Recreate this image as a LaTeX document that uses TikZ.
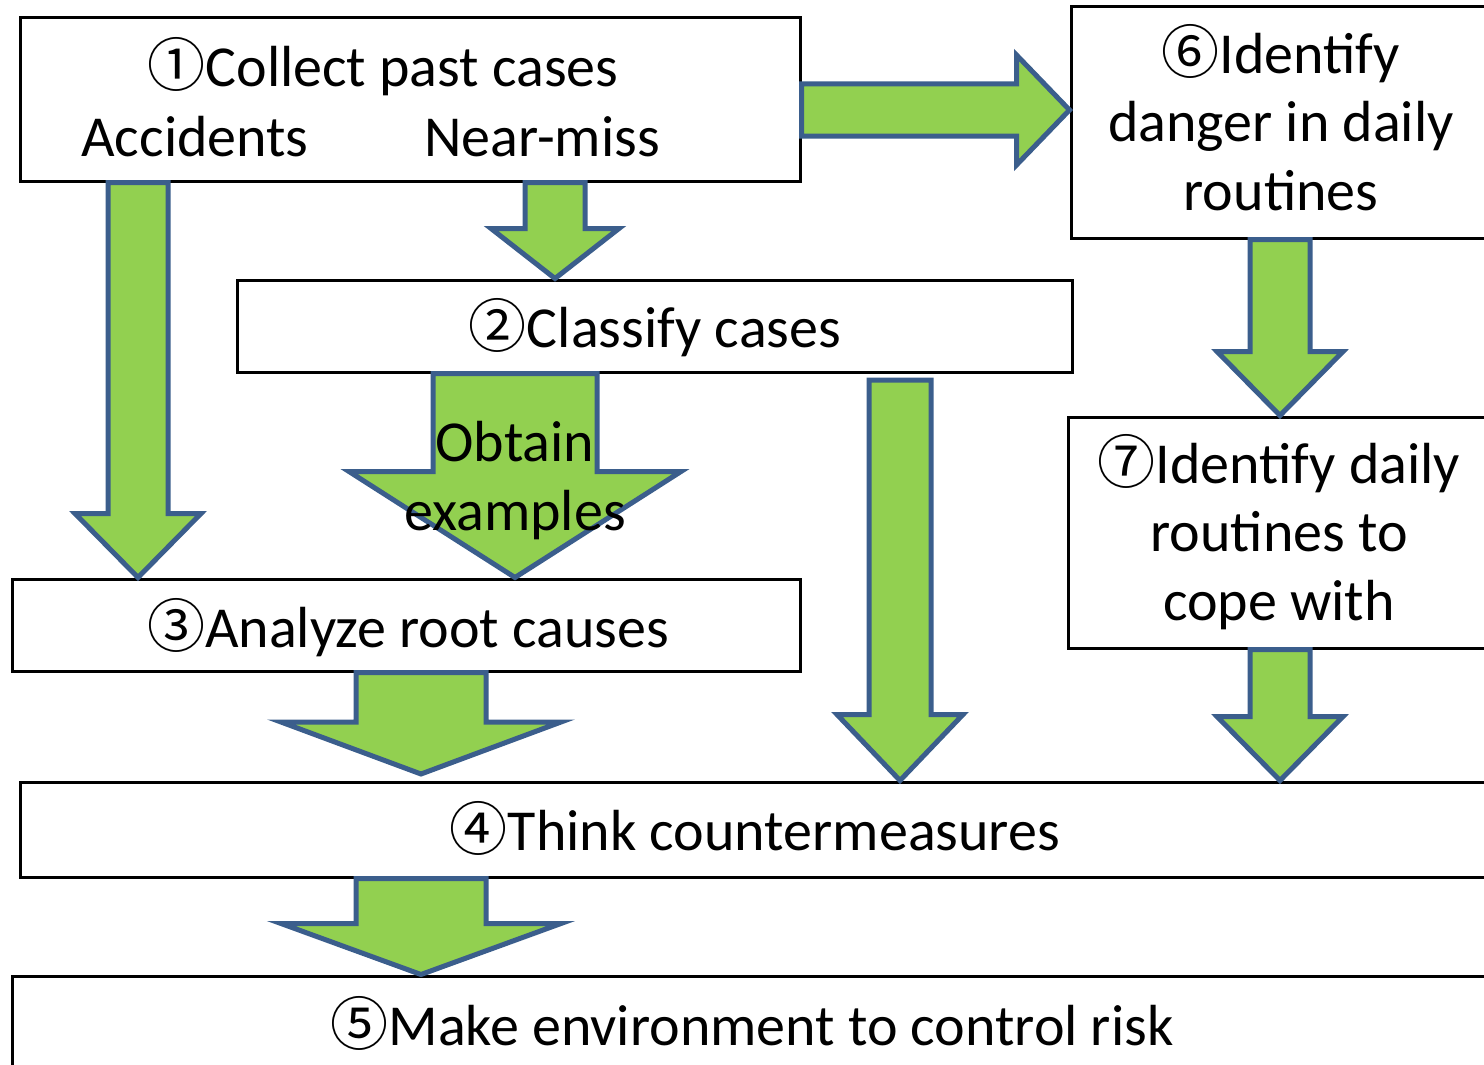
\documentclass[tikz,border=0pt]{standalone}
\usepackage{fontspec}
\setmainfont{Carlito}
\newfontfamily\circfont{Noto Sans CJK JP}
\usetikzlibrary{calc}

\definecolor{arrowgreen}{HTML}{92D050}
\definecolor{arrowblue}{HTML}{3B5E8C}

\newcommand{\cnum}[1]{{\circfont #1}}
% fat down arrow: start, tip, shaft half width, head half width, head length
\newcommand{\fatdown}[5]{%
  \path #1 coordinate (fs) #2 coordinate (ft);
  \draw[fatarrow] ([xshift=-#3pt]fs) -- ([xshift=#3pt]fs)
    -- ([xshift=#3pt,yshift=#5pt]ft) -- ([xshift=#4pt,yshift=#5pt]ft)
    -- (ft) -- ([xshift=-#4pt,yshift=#5pt]ft)
    -- ([xshift=-#3pt,yshift=#5pt]ft) -- cycle;}

\begin{document}
\begin{tikzpicture}[x=1pt,y=-1pt,
  font=\fontsize{58}{68.5}\selectfont,
  stepbox/.style={draw,line width=3pt,inner sep=0pt,minimum width=#1},
  label/.style={anchor=base,align=center,inner sep=0pt},
  fatarrow/.style={fill=arrowgreen,draw=arrowblue,line width=5pt,line join=miter}]
\useasboundingbox (0,0) rectangle (1484,1065);
\clip (0,0) rectangle (1484,1065);

% boxes
\node[stepbox=780,minimum height=163] (collect) at (410,99.5) {};
\node[stepbox=420,minimum height=231] (danger) at (1281,122.5) {};
\node[stepbox=835,minimum height=92] (classify) at (654.5,326) {};
\node[stepbox=788,minimum height=92] (analyze) at (406,625) {};
\node[stepbox=422,minimum height=231] (routines) at (1279,532.5) {};
\node[stepbox=1470,minimum height=95] (think) at (755,829.5) {};
\node[stepbox=1480,minimum height=100] (make) at (752,1026) {};

% texts (base = last line)
\node[label] (t1) at (383,87) {\cnum{①}Collect past cases};
\node[label] (tacc) at (195,156) {Accidents};
\node[label] (tnear) at (542,156) {Near-miss};
\node[label] (t6) at (1281,210) {\cnum{⑥}Identify\\danger in daily\\routines};
\node[label] (t2) at (655,347) {\cnum{②}Classify cases};
\node[label] (t3) at (408,647) {\cnum{③}Analyze root causes};
\node[label] (t7) at (1279,620) {\cnum{⑦}Identify daily\\routines to\\cope with};
\node[label] (t4) at (755,850) {\cnum{④}Think countermeasures};
\node[label] (t5) at (752,1045) {\cnum{⑤}Make environment to control risk};

% arrows
\path (collect.east |- 0,110) coordinate (rs) (danger.west |- 0,110) coordinate (rt);
\draw[fatarrow] ([yshift=26pt]rs) -- ([xshift=-53pt,yshift=26pt]rt)
  -- ([xshift=-53pt,yshift=55pt]rt) -- (rt) -- ([xshift=-53pt,yshift=-55pt]rt)
  -- ([xshift=-53pt,yshift=-26pt]rt) -- ([yshift=-26pt]rs) -- cycle;

\fatdown{(138,0 |- collect.south)}{(138,0 |- analyze.north)}{30}{63}{64}
\fatdown{(555,0 |- collect.south)}{(555,0 |- classify.north)}{30}{64}{50}
\fatdown{(515,0 |- classify.south)}{(515,0 |- analyze.north)}{82}{166}{106}
\fatdown{(900,380)}{(900,0 |- think.north)}{31}{63}{66}
\fatdown{(1280,0 |- danger.south)}{(1280,0 |- routines.north)}{30}{63}{64}
\fatdown{(1280,0 |- routines.south)}{(1280,0 |- think.north)}{30}{63}{64}
\fatdown{(421,0 |- analyze.south)}{(421,774)}{65}{140}{52}
\fatdown{(421,0 |- think.south)}{(421,0 |- make.north)}{65}{140}{51}

\node[label] (tobtain) at (515,530) {Obtain\\examples};
\end{tikzpicture}
\end{document}
